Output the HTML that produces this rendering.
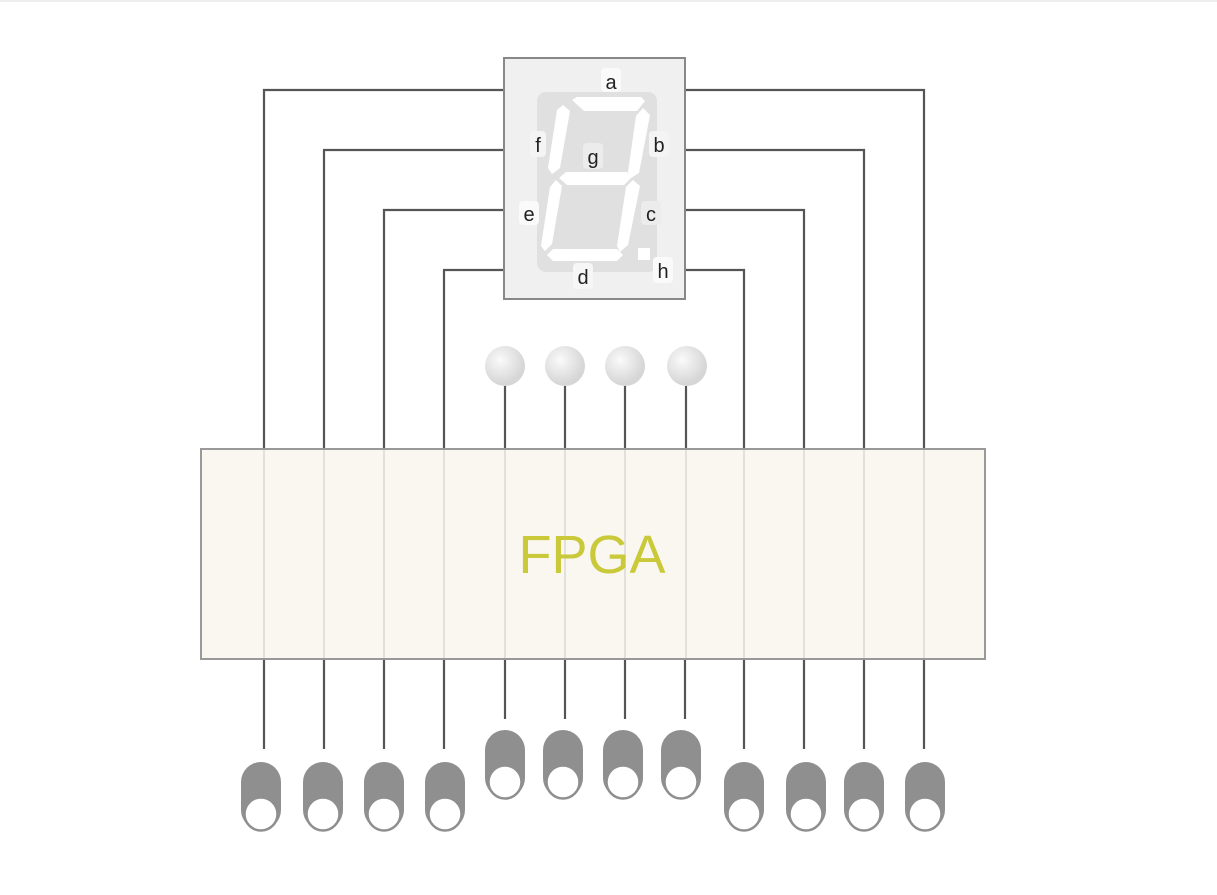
<!DOCTYPE html>
<html><head><style>
body{margin:0;background:#fff;}
svg{display:block;font-family:"Liberation Sans",Arial,sans-serif;}
</style></head><body>
<svg width="1217" height="895" viewBox="0 0 1217 895">
<defs>
<radialGradient id="ball" cx="0.38" cy="0.35" r="0.6">
<stop offset="0" stop-color="#fafafa"/><stop offset="1" stop-color="#d6d6d6"/>
</radialGradient>
</defs>
<rect x="0" y="0" width="1217" height="2" fill="#eee"/>
<g fill="none" stroke="#555" stroke-width="2.2">
<path d="M264 449V90H504"/><path d="M324 449V150H504"/><path d="M384 449V210H504"/><path d="M444 449V270H504"/>
<path d="M924 449V90H685"/><path d="M864 449V150H685"/><path d="M804 449V210H685"/><path d="M744 449V270H685"/>
<path d="M505 386V449M565 386V449M625 386V449M686 386V449"/>
<path d="M264 659V749M324 659V749M384 659V749M444 659V749M744 659V749M804 659V749M864 659V749M924 659V749"/>
<path d="M505 659V719M565 659V719M625 659V719M685 659V719"/>
</g>
<rect x="201" y="449" width="784" height="210" fill="#f9f7f0" stroke="#999" stroke-width="2"/>
<g stroke="#e2e0da" stroke-width="2">
<path d="M264 450V658M324 450V658M384 450V658M444 450V658M505 450V658M565 450V658M625 450V658M686 450V658M744 450V658M804 450V658M864 450V658M924 450V658"/>
</g>
<text x="592" y="573" text-anchor="middle" font-size="54" fill="#c9c93a">FPGA</text>
<rect x="504" y="58" width="181" height="241" fill="#f0f0f0" stroke="#888" stroke-width="2"/>
<rect x="537" y="92" width="120" height="180" rx="9" fill="#e0e0e0"/>
<g fill="#fff">
<polygon points="572,100 577,97 641,97 645,101 637,111 584,111"/>
<polygon points="563,105 570,111 560,168 552,174 548,168 557,110"/>
<polygon points="643,108 650,115 639,173 631,178 628,172 636,116"/>
<polygon points="559,178 566,172 627,172 632,177 624,185 567,185"/>
<polygon points="556,180 562,186 552,244 545,251 541,246 550,187"/>
<polygon points="633,180 640,186 628,245 620,252 617,246 626,187"/>
<polygon points="547,255 553,249 617,249 623,255 617,261 553,261"/>
<rect x="638" y="248" width="12" height="12"/>
</g>
<g font-size="20" fill="#222" text-anchor="middle">
<rect x="601" y="68" width="20" height="24" rx="4" fill="#fafafa"/><text x="611" y="89">a</text>
<rect x="530" y="131" width="16" height="26" rx="4" fill="#f4f4f4"/><text x="538" y="152">f</text>
<rect x="583" y="143" width="20" height="26" rx="4" fill="#ececec"/><text x="593" y="164">g</text>
<rect x="649" y="131" width="20" height="26" rx="4" fill="#f4f4f4"/><text x="659" y="152">b</text>
<rect x="519" y="201" width="20" height="24" rx="4" fill="#fafafa"/><text x="529" y="221">e</text>
<rect x="641" y="201" width="20" height="24" rx="4" fill="#ececec"/><text x="651" y="221">c</text>
<rect x="573" y="263" width="20" height="26" rx="4" fill="#f6f6f6"/><text x="583" y="284">d</text>
<rect x="653" y="257" width="20" height="26" rx="4" fill="#fafafa"/><text x="663" y="278">h</text>
</g>
<g fill="url(#ball)">
<circle cx="505" cy="366" r="20"/><circle cx="565" cy="366" r="20"/><circle cx="625" cy="366" r="20"/><circle cx="687" cy="366" r="20"/>
</g>
<g>
<g transform="translate(261,762)"><rect x="-20" y="0" width="40" height="68" rx="20" fill="#8f8f8f"/><circle cx="0" cy="52" r="16.5" fill="#fff" stroke="#8f8f8f" stroke-width="2.5"/></g>
<g transform="translate(323,762)"><rect x="-20" y="0" width="40" height="68" rx="20" fill="#8f8f8f"/><circle cx="0" cy="52" r="16.5" fill="#fff" stroke="#8f8f8f" stroke-width="2.5"/></g>
<g transform="translate(384,762)"><rect x="-20" y="0" width="40" height="68" rx="20" fill="#8f8f8f"/><circle cx="0" cy="52" r="16.5" fill="#fff" stroke="#8f8f8f" stroke-width="2.5"/></g>
<g transform="translate(445,762)"><rect x="-20" y="0" width="40" height="68" rx="20" fill="#8f8f8f"/><circle cx="0" cy="52" r="16.5" fill="#fff" stroke="#8f8f8f" stroke-width="2.5"/></g>
<g transform="translate(505,730)"><rect x="-20" y="0" width="40" height="68" rx="20" fill="#8f8f8f"/><circle cx="0" cy="52" r="16.5" fill="#fff" stroke="#8f8f8f" stroke-width="2.5"/></g>
<g transform="translate(563,730)"><rect x="-20" y="0" width="40" height="68" rx="20" fill="#8f8f8f"/><circle cx="0" cy="52" r="16.5" fill="#fff" stroke="#8f8f8f" stroke-width="2.5"/></g>
<g transform="translate(623,730)"><rect x="-20" y="0" width="40" height="68" rx="20" fill="#8f8f8f"/><circle cx="0" cy="52" r="16.5" fill="#fff" stroke="#8f8f8f" stroke-width="2.5"/></g>
<g transform="translate(681,730)"><rect x="-20" y="0" width="40" height="68" rx="20" fill="#8f8f8f"/><circle cx="0" cy="52" r="16.5" fill="#fff" stroke="#8f8f8f" stroke-width="2.5"/></g>
<g transform="translate(744,762)"><rect x="-20" y="0" width="40" height="68" rx="20" fill="#8f8f8f"/><circle cx="0" cy="52" r="16.5" fill="#fff" stroke="#8f8f8f" stroke-width="2.5"/></g>
<g transform="translate(806,762)"><rect x="-20" y="0" width="40" height="68" rx="20" fill="#8f8f8f"/><circle cx="0" cy="52" r="16.5" fill="#fff" stroke="#8f8f8f" stroke-width="2.5"/></g>
<g transform="translate(864,762)"><rect x="-20" y="0" width="40" height="68" rx="20" fill="#8f8f8f"/><circle cx="0" cy="52" r="16.5" fill="#fff" stroke="#8f8f8f" stroke-width="2.5"/></g>
<g transform="translate(925,762)"><rect x="-20" y="0" width="40" height="68" rx="20" fill="#8f8f8f"/><circle cx="0" cy="52" r="16.5" fill="#fff" stroke="#8f8f8f" stroke-width="2.5"/></g>
</g>
</svg>
</body></html>
